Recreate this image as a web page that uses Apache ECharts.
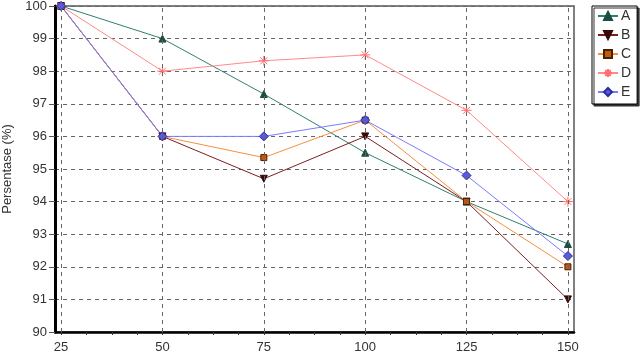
<!DOCTYPE html>
<html><head><meta charset="utf-8">
<script src="https://cdn.jsdelivr.net/npm/echarts@6/dist/echarts.min.js"></script>
<style>html,body{margin:0;padding:0;background:#fff}#c{width:640px;height:355px}</style>
</head><body><div id="c"></div>
<script>
const xValues = [25, 50, 75, 100, 125, 150];
const xMinorTicks = [25, 31.25, 37.5, 43.75, 50, 56.25, 62.5, 68.75, 75, 81.25, 87.5, 93.75, 100, 106.25, 112.5, 118.75, 125, 131.25, 137.5, 143.75, 150];
const seriesA = [100, 99.0, 97.3, 95.5, 94.0, 92.7];
const seriesB = [100, 96.0, 94.7, 96.0, 94.0, 91.0];
const seriesC = [100, 96.0, 95.35, 96.5, 94.0, 92.0];
const seriesD = [100, 98.0, 98.32, 98.5, 96.8, 94.0];
const seriesE = [100, 96.0, 96.0, 96.5, 94.8, 92.33];
const names = ['A', 'B', 'C', 'D', 'E'];
const yTitle = 'Persentase (%)';

const font = 'Liberation Sans, Arial, sans-serif';
const asterisk = 'path://M0,5L10,5M5,0L5,10M1.5,1.5L8.5,8.5M8.5,1.5L1.5,8.5';
function pairs(v) { return xValues.map((x, i) => [x, v[i]]); }
function mk(name, data, lineColor, symbol, symColor, symBorder, size, extra) {
  return Object.assign({
    name, type: 'line', data: pairs(data), symbol, symbolSize: size,
    lineStyle: { color: lineColor, width: 1 },
    itemStyle: { color: symColor, borderColor: symBorder, borderWidth: 1 },
    emphasis: { disabled: true }, z: 3
  }, extra || {});
}
const chart = echarts.init(document.getElementById('c'), null, { renderer: 'canvas' });
chart.setOption({
  animation: false,
  textStyle: { fontFamily: font },
  grid: { left: 55, right: 66, top: 6, bottom: 23, show: true, borderColor: '#555', borderWidth: 1.5, outerBoundsMode: 'none', containLabel: false },
  legend: {
    orient: 'vertical', left: 592, top: 6,
    data: names,
    backgroundColor: '#fff', borderColor: '#000', borderWidth: 1,
    shadowColor: '#333', shadowOffsetX: 2, shadowOffsetY: 2, shadowBlur: 0,
    padding: [3, 6, 5, 5], itemWidth: 20, itemHeight: 10, itemGap: 5,
    textStyle: { fontSize: 14, color: '#333', fontFamily: font, lineHeight: 14, padding: [0, 0, 0, -2] }
  },
  xAxis: {
    type: 'value', min: 23.5, max: 151.5,
    axisLine: { lineStyle: { color: '#000', width: 2.5 } },
    axisTick: { show: true, customValues: xMinorTicks, length: 3, lineStyle: { color: '#333' } },
    axisLabel: { customValues: xValues, color: '#333', fontSize: 13, margin: 9 },
    splitLine: { show: false }
  },
  yAxis: {
    type: 'value', min: 90, max: 100, interval: 1,
    name: yTitle, nameLocation: 'middle', nameGap: 40, nameRotate: 90,
    nameTextStyle: { fontSize: 13, color: '#333' },
    axisLine: { show: true, lineStyle: { color: '#000', width: 3 } },
    axisTick: { show: true, length: 6, lineStyle: { color: '#555' } },
    axisLabel: { color: '#333', fontSize: 13, margin: 8 },
    splitLine: { lineStyle: { color: '#666', type: [4, 4], width: 1 } }
  },
  series: [
    mk('A', seriesA, '#2f8070', 'triangle', '#1d4d40', '#1d4d40', 7, {
      markLine: {
        silent: true, symbol: ['none', 'none'], label: { show: false },
        lineStyle: { color: '#666', type: [4, 4], width: 1 },
        data: xValues.map(x => ({ xAxis: x }))
      }
    }),
    mk('B', seriesB, '#7a1f1f', 'path://M0,0L10,0L5,10Z', '#3a0808', '#3a0808', 7),
    mk('C', seriesC, '#f59040', 'rect', '#c05a10', '#4a2000', 6),
    mk('D', seriesD, '#ff8a8a', asterisk, 'none', '#ff7070', 10),
    mk('E', seriesE, '#7a7aff', 'diamond', '#5a5ae0', '#2a2aa0', 9)
  ]
});
</script></body></html>
